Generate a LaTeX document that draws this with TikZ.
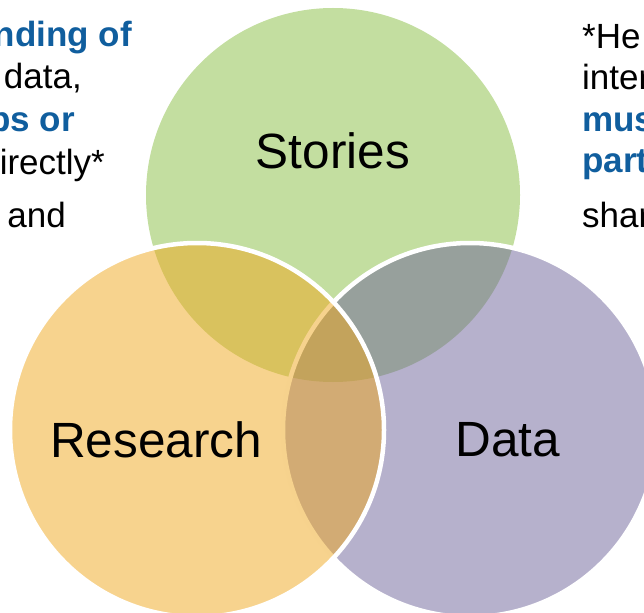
\documentclass[tikz,border=0pt]{standalone}
\usepackage{fontspec}
\setmainfont{Liberation Sans}

\definecolor{verde}{RGB}{195,222,160}
\definecolor{laranja}{RGB}{239,167,29}
\definecolor{roxo}{RGB}{109,99,153}
\definecolor{azul}{RGB}{16,94,158}

\begin{document}
\begin{tikzpicture}[x=1pt, y=-1pt,
		conjunto/.style = {circle, inner sep=0pt, minimum size=374pt, draw=white, line width=4.5pt},
		rotulo/.style = {inner sep=0pt, font=\fontsize{49.5}{58}\selectfont},
		frase/.style = {inner sep=0pt, font=\fontsize{35}{42}\selectfont},
		destaque/.style = {inner sep=0pt, text=azul, font=\fontsize{35}{42}\selectfont\bfseries}]
		\useasboundingbox (0,0) rectangle (644,612);
		\clip (0,0) rectangle (644,612);

		% os tres conjuntos
		\node[conjunto, draw=none, fill=verde] (S) at (333,195) {};
		\node[conjunto, fill=roxo, fill opacity=0.5] (D) at (470,430) {};
		\node[conjunto, fill=laranja, fill opacity=0.5] (R) at (197,430) {};

		\node[rotulo, anchor=base] (s) at (333,169) {Stories};
		\node[rotulo, anchor=base] (r) at (156,457) {Research};
		\node[rotulo, anchor=base] (d) at (508,456) {Data};

		% texto cortado a esquerda
		\node[destaque, anchor=base east] (e1) at (132,47) {nding of};
		\node[frase, anchor=base east] (e2) at (82,89) {data,};
		\node[destaque, anchor=base east] (e3) at (75,132) {ps or};
		\node[frase, anchor=base east] (e4) at (105,175) {irectly*};
		\node[frase, anchor=base east] (e5) at (66,227) {and};

		% texto cortado a direita
		\node[frase, anchor=base west] (d1) at (582,49) {*He};
		\node[frase, anchor=base west] (d2) at (582,90) {inter};
		\node[destaque, anchor=base west] (d3) at (582,132) {mus};
		\node[destaque, anchor=base west] (d4) at (582,173) {part};
		\node[frase, anchor=base west] (d5) at (582,227) {shar};
	\end{tikzpicture}
\end{document}
